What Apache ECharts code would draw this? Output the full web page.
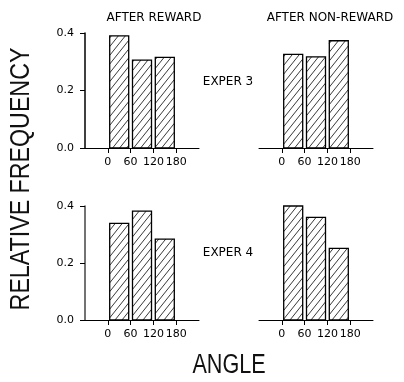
<!DOCTYPE html>
<html>
<head>
<meta charset="utf-8">
<script src="https://cdn.jsdelivr.net/npm/echarts@6/dist/echarts.min.js"></script>
<style>
  html, body { margin: 0; padding: 0; background: #fff; }
  #chart { width: 404px; height: 382px; }
</style>
</head>
<body>
<div id="chart"></div>
<script>
// Angle bins (centre of each 60-degree bin) and axis ticks
const angleBins = [30, 90, 150];
const angleTicks = [0, 60, 120, 180];
const freqTicks = [0.0, 0.2, 0.4];

// Relative frequencies per bin
const exper3AfterReward    = [0.390, 0.306, 0.315];
const exper3AfterNonReward = [0.326, 0.317, 0.373];
const exper4AfterReward    = [0.339, 0.382, 0.284];
const exper4AfterNonReward = [0.400, 0.360, 0.251];

const columnTitles = ['AFTER REWARD', 'AFTER NON-REWARD'];
const rowLabels = ['EXPER 3', 'EXPER 4'];
const yTitle = 'RELATIVE FREQUENCY';
const xTitle = 'ANGLE';

const BIN_HALF = 25;        // bars cover 50 of each 60 degrees
const HATCH_SLOPE = 1.25;   // dy/dx of hatch lines
const HATCH_GAP = 7;        // horizontal spacing of hatch lines, px
const INK = '#000';
const SMALL_FONT = 'DejaVu Sans';
const BIG_FONT = '"Liberation Sans", sans-serif';

const panels = [
  { data: exper3AfterReward,    left: 85,  top: 33,  height: 115, yAxis: true },
  { data: exper3AfterNonReward, left: 259, top: 33,  height: 115, yAxis: false },
  { data: exper4AfterReward,    left: 85,  top: 206, height: 114, yAxis: true },
  { data: exper4AfterNonReward, left: 259, top: 206, height: 114, yAxis: false }
];

// Hatched bar: white box, diagonal "/" lines clipped to the box, black outline
function renderHatchedBar(params, api) {
  const c = api.value(0), v = api.value(1);
  const pTop = api.coord([c - BIN_HALF, v]);
  const pBot = api.coord([c + BIN_HALF, 0]);
  const x0 = pTop[0], y0 = pTop[1], x1 = pBot[0], y1 = pBot[1];
  const children = [{
    type: 'rect', shape: { x: x0, y: y0, width: x1 - x0, height: y1 - y0 },
    style: { fill: '#fff', stroke: null }
  }];
  const s = HATCH_SLOPE;
  const uMin = x0 + y0 / s, uMax = x1 + y1 / s;
  for (let u = Math.ceil(uMin / HATCH_GAP) * HATCH_GAP; u <= uMax; u += HATCH_GAP) {
    const ya = Math.max(y0, s * (u - x1));
    const yb = Math.min(y1, s * (u - x0));
    if (yb - ya < 0.5) continue;
    children.push({
      type: 'line',
      shape: { x1: u - ya / s, y1: ya, x2: u - yb / s, y2: yb },
      style: { stroke: '#222', lineWidth: 0.9 }
    });
  }
  children.push({
    type: 'rect', shape: { x: x0, y: y0, width: x1 - x0, height: y1 - y0 },
    style: { fill: null, stroke: INK, lineWidth: 1.3 }
  });
  return { type: 'group', children: children };
}

const grids = [], xAxes = [], yAxes = [], series = [];
panels.forEach((p, i) => {
  grids.push({ left: p.left, top: p.top, width: 114, height: p.height });
  xAxes.push({
    type: 'value', gridIndex: i, min: -60, max: 240, interval: 60,
    splitLine: { show: false },
    axisLine: { show: true, onZero: false, lineStyle: { color: INK, width: 1 } },
    axisTick: { show: true, length: 5, inside: false, customValues: angleTicks,
                lineStyle: { color: INK, width: 1 } },
    axisLabel: { show: true, customValues: angleTicks, margin: 9,
                 color: INK, fontFamily: SMALL_FONT, fontSize: 11 }
  });
  yAxes.push({
    type: 'value', gridIndex: i, min: 0, max: 0.4, interval: 0.2,
    show: p.yAxis, position: 'left',
    splitLine: { show: false },
    axisLine: { show: true, onZero: false,
                lineStyle: { color: i === 2 ? '#444' : INK, width: 1.5 } },
    axisTick: { show: p.yAxis, length: 5, inside: false, customValues: freqTicks,
                lineStyle: { color: INK, width: 1 } },
    axisLabel: { show: p.yAxis, customValues: freqTicks, margin: 11,
                 formatter: v => v.toFixed(1),
                 color: INK, fontFamily: SMALL_FONT, fontSize: 11 }
  });
  series.push({
    type: 'custom', xAxisIndex: i, yAxisIndex: i,
    renderItem: renderHatchedBar,
    encode: { x: 0, y: 1 },
    data: angleBins.map((a, k) => [a, p.data[k]]),
    clip: false, silent: true
  });
});

function smallText(text, x, y) {
  return { type: 'text', x: x, y: y, silent: true,
    style: { text: text, fill: INK, font: '12px "' + SMALL_FONT + '"',
             align: 'center', verticalAlign: 'middle' } };
}

const graphics = [
  smallText(columnTitles[0], 154, 18),
  smallText(columnTitles[1], 330, 18),
  smallText(rowLabels[0], 228, 82),
  smallText(rowLabels[1], 228, 253),
  // tall, narrow lettering for the axis titles
  { type: 'text', x: 22, y: 179, rotation: Math.PI / 2, scaleX: 0.86, silent: true,
    style: { text: yTitle, fill: '#111', font: '27px ' + BIG_FONT,
             align: 'center', verticalAlign: 'middle' } },
  { type: 'text', x: 229, y: 366, scaleX: 0.8, silent: true,
    style: { text: xTitle, fill: '#111', font: '27px ' + BIG_FONT,
             align: 'center', verticalAlign: 'middle' } }
];

const chart = echarts.init(document.getElementById('chart'), null, { renderer: 'canvas' });
chart.setOption({
  animation: false,
  backgroundColor: '#fff',
  grid: grids,
  xAxis: xAxes,
  yAxis: yAxes,
  series: series,
  graphic: graphics
});
</script>
</body>
</html>
